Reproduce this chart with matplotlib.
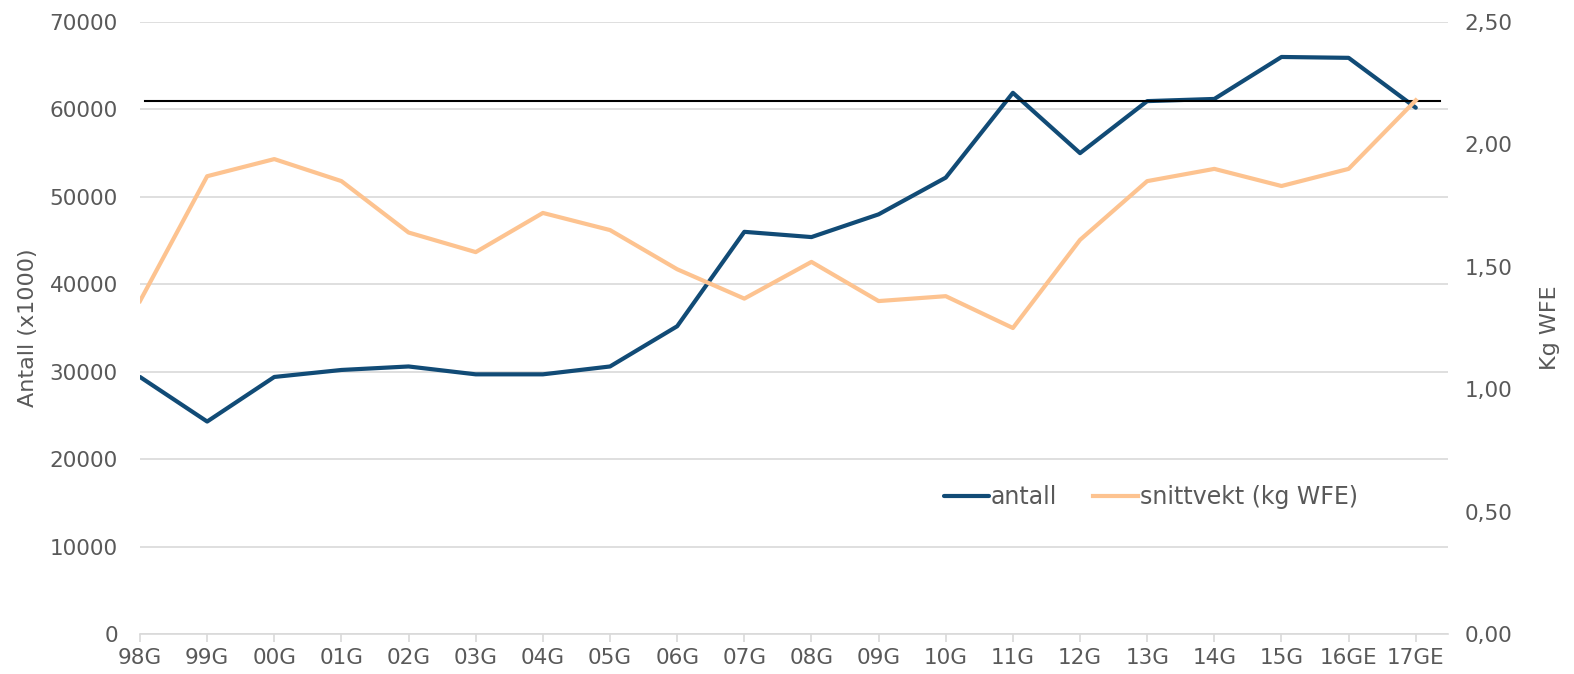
import matplotlib
matplotlib.use("Agg")
import matplotlib.pyplot as plt
import numpy as np

categories = ["98G", "99G", "00G", "01G", "02G", "03G", "04G", "05G", "06G", "07G",
              "08G", "09G", "10G", "11G", "12G", "13G", "14G", "15G", "16GE", "17GE"]
antall = [29400, 24300, 29400, 30200, 30600, 29700, 29700, 30600, 35200, 46000,
          45400, 48000, 52200, 61900, 55000, 60950, 61200, 66000, 65900, 60200]
snittvekt = [1.36, 1.87, 1.94, 1.85, 1.64, 1.56, 1.72, 1.65, 1.49, 1.37,
             1.52, 1.36, 1.38, 1.25, 1.61, 1.85, 1.90, 1.83, 1.90, 2.18]
ref_level = 61000

left_ticks = [0, 10000, 20000, 30000, 40000, 50000, 60000, 70000]
right_ticks = [0.0, 0.5, 1.0, 1.5, 2.0, 2.5]
right_labels = ["0,00", "0,50", "1,00", "1,50", "2,00", "2,50"]

plt.rcParams['font.family'] = ['DejaVu Sans']
text_color = "#595959"
grid_color = "#D9D9D9"
blue = "#114B76"
orange = "#FDC390"

fig = plt.figure(figsize=(15.74, 6.74), dpi=100)
ax = fig.add_axes([140/1574, 1-634/674, (1448-140)/1574, (634-22)/674])
ax2 = ax.twinx()

x = np.arange(len(categories))
l1, = ax.plot(x, antall, color=blue, lw=3.0, solid_capstyle='round', label="antall", zorder=3)
l2, = ax2.plot(x, snittvekt, color=orange, lw=3.0, label="snittvekt (kg WFE)", zorder=3)
ax.axhline(ref_level, xmin=5/1308, xmax=1300/1308, color="black", lw=1.5, zorder=4)

ax.set_xlim(0, 19.48)
ax.set_ylim(0, 70000)
ax2.set_ylim(0, 2.5)
ax.set_yticks(left_ticks)
ax.set_yticklabels([str(v) for v in left_ticks])
ax2.set_yticks(right_ticks)
ax2.set_yticklabels(right_labels)
ax.set_xticks(x)
ax.set_xticklabels(categories)

ax.grid(axis='y', color=grid_color, lw=1.2, zorder=0)
ax.set_axisbelow(True)
for a in (ax, ax2):
    for s in a.spines.values():
        s.set_visible(False)
ax.spines['bottom'].set_visible(True)
ax.spines['bottom'].set_color(grid_color)
ax.spines['bottom'].set_linewidth(1.2)

ax.tick_params(axis='y', length=0, labelsize=15.5, labelcolor=text_color, pad=16)
ax2.tick_params(axis='y', length=0, labelsize=15.5, labelcolor=text_color, pad=12)
ax.tick_params(axis='x', length=6, color=grid_color, width=1.2, labelsize=15.5,
               labelcolor=text_color, pad=4)

ax.set_ylabel("Antall (x1000)", fontsize=16, color=text_color, labelpad=8)
ax2.set_ylabel("Kg WFE", fontsize=16, color=text_color, rotation=90, labelpad=20)

leg = ax.legend(handles=[l1, l2], loc='center', bbox_to_anchor=((1151-140)/1308, (634-497)/612),
                ncol=2, frameon=False, fontsize=17, handlelength=1.9, handletextpad=0.1,
                columnspacing=1.5)
for t in leg.get_texts():
    t.set_color(text_color)

fig.savefig("out.png", dpi=100)
